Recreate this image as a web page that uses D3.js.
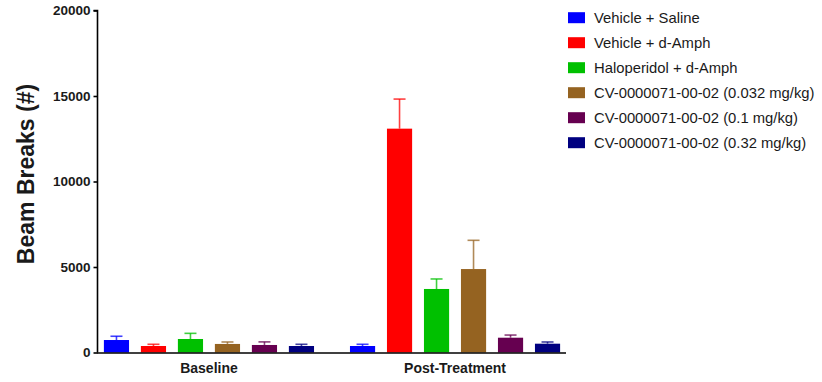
<!DOCTYPE html>
<html>
<head>
<meta charset="utf-8">
<script src="https://cdn.jsdelivr.net/npm/d3@7"></script>
<style>
  html, body { margin: 0; padding: 0; background: #fff; }
  svg { display: block; }
  text { font-family: "Liberation Sans", Arial, sans-serif; }
</style>
</head>
<body>
<svg id="chart" width="822" height="382"></svg>
<script>
// Groups (x-axis categories)
const groups = ["Baseline", "Post-Treatment"];

// Treatment series
const series = [
  "Vehicle + Saline",
  "Vehicle + d-Amph",
  "Haloperidol + d-Amph",
  "CV-0000071-00-02 (0.032 mg/kg)",
  "CV-0000071-00-02 (0.1 mg/kg)",
  "CV-0000071-00-02 (0.32 mg/kg)"
];

const colors = ["#0000FF", "#FF0000", "#00C000", "#956321", "#660050", "#000080"];

// Mean beam breaks per series, one array per group
const baselineMeans = [730, 380, 790, 500, 440, 380];
const postMeans = [380, 13090, 3715, 4880, 865, 515];

// Upper error (SEM) per series
const baselineErr = [220, 100, 330, 115, 180, 100];
const postErr = [100, 1730, 585, 1680, 155, 100];

const yTicks = [0, 5000, 10000, 15000, 20000];

const svg = d3.select("#chart");

const y = d3.scaleLinear().domain([0, 20000]).range([352.5, 10.5]);

const xGroup = d3.scaleBand()
  .domain(groups)
  .range([97, 567])
  .paddingInner(0.146)
  .paddingOuter(0.028);

const xSeries = d3.scaleBand()
  .domain(series)
  .range([0, xGroup.bandwidth()])
  .paddingInner(0.32)
  .paddingOuter(0);

const color = d3.scaleOrdinal().domain(series).range(colors);

const rows = [
  { group: "Baseline", means: baselineMeans, errs: baselineErr },
  { group: "Post-Treatment", means: postMeans, errs: postErr }
];

const data = [];
rows.forEach(r => {
  series.forEach((s, i) => {
    data.push({ group: r.group, series: s, value: r.means[i], err: r.errs[i] });
  });
});

const bx = d => xGroup(d.group) + xSeries(d.series);
const bw = xSeries.bandwidth();
const capW = 12;

// Error bars (drawn beneath the bars)
const eb = svg.append("g").attr("class", "errors");
eb.selectAll("line.stem").data(data).join("line")
  .attr("class", "stem")
  .attr("x1", d => bx(d) + bw / 2)
  .attr("x2", d => bx(d) + bw / 2)
  .attr("y1", d => y(d.value))
  .attr("y2", d => y(d.value + d.err))
  .attr("stroke", d => color(d.series))
  .attr("stroke-opacity", 0.75)
  .attr("stroke-width", 1.6);
eb.selectAll("line.cap").data(data).join("line")
  .attr("class", "cap")
  .attr("x1", d => bx(d) + bw / 2 - capW / 2)
  .attr("x2", d => bx(d) + bw / 2 + capW / 2)
  .attr("y1", d => y(d.value + d.err))
  .attr("y2", d => y(d.value + d.err))
  .attr("stroke", d => color(d.series))
  .attr("stroke-opacity", 0.75)
  .attr("stroke-width", 1.6);

// Bars
svg.append("g").attr("class", "bars")
  .selectAll("rect").data(data).join("rect")
  .attr("x", d => bx(d))
  .attr("width", bw)
  .attr("y", d => y(d.value))
  .attr("height", d => y(0) - y(d.value))
  .attr("fill", d => color(d.series));

// Y axis
const yAxis = svg.append("g")
  .attr("transform", "translate(97.5,0)")
  .call(d3.axisLeft(y).tickValues(yTicks).tickSize(4).tickPadding(3).tickFormat(d3.format("d")));
yAxis.select(".domain").attr("stroke", "#000").attr("stroke-width", 1.6)
  .attr("d", `M-4,${y(20000)}H0V${y(0)}`);
yAxis.selectAll(".tick line").attr("stroke", "#000").attr("stroke-width", 1.6);
yAxis.selectAll(".tick text")
  .attr("fill", "#1a1a1a")
  .style("font-family", "'Liberation Sans', Arial, sans-serif")
  .style("font-size", "13.5px")
  .style("font-weight", "bold");

// X axis
const xAxis = svg.append("g")
  .attr("transform", `translate(0,${y(0) + 0.5})`)
  .call(d3.axisBottom(xGroup).tickSize(0).tickPadding(10));
xAxis.select(".domain").attr("stroke", "#000").attr("stroke-width", 1.6)
  .attr("d", `M97,0H566`);
xAxis.selectAll(".tick text")
  .attr("fill", "#1a1a1a")
  .style("font-family", "'Liberation Sans', Arial, sans-serif")
  .style("font-size", "14px")
  .style("font-weight", "bold");

// Y axis title
svg.append("text")
  .attr("transform", "translate(34,174) rotate(-90)")
  .attr("text-anchor", "middle")
  .attr("fill", "#1a1a1a")
  .style("font-size", "23px")
  .style("font-weight", "bold")
  .text("Beam Breaks (#)");

// Legend
const legend = svg.append("g").attr("class", "legend")
  .attr("transform", "translate(568,0)");
const li = legend.selectAll("g").data(series).join("g")
  .attr("transform", (d, i) => `translate(0,${17.7 + i * 25})`);
li.append("rect")
  .attr("x", 0).attr("y", -5.5)
  .attr("width", 17).attr("height", 11)
  .attr("fill", d => color(d));
li.append("text")
  .attr("x", 26).attr("y", 0)
  .attr("dy", "0.35em")
  .attr("fill", "#1a1a1a")
  .style("font-size", "14.8px")
  .text(d => d);
</script>
</body>
</html>
